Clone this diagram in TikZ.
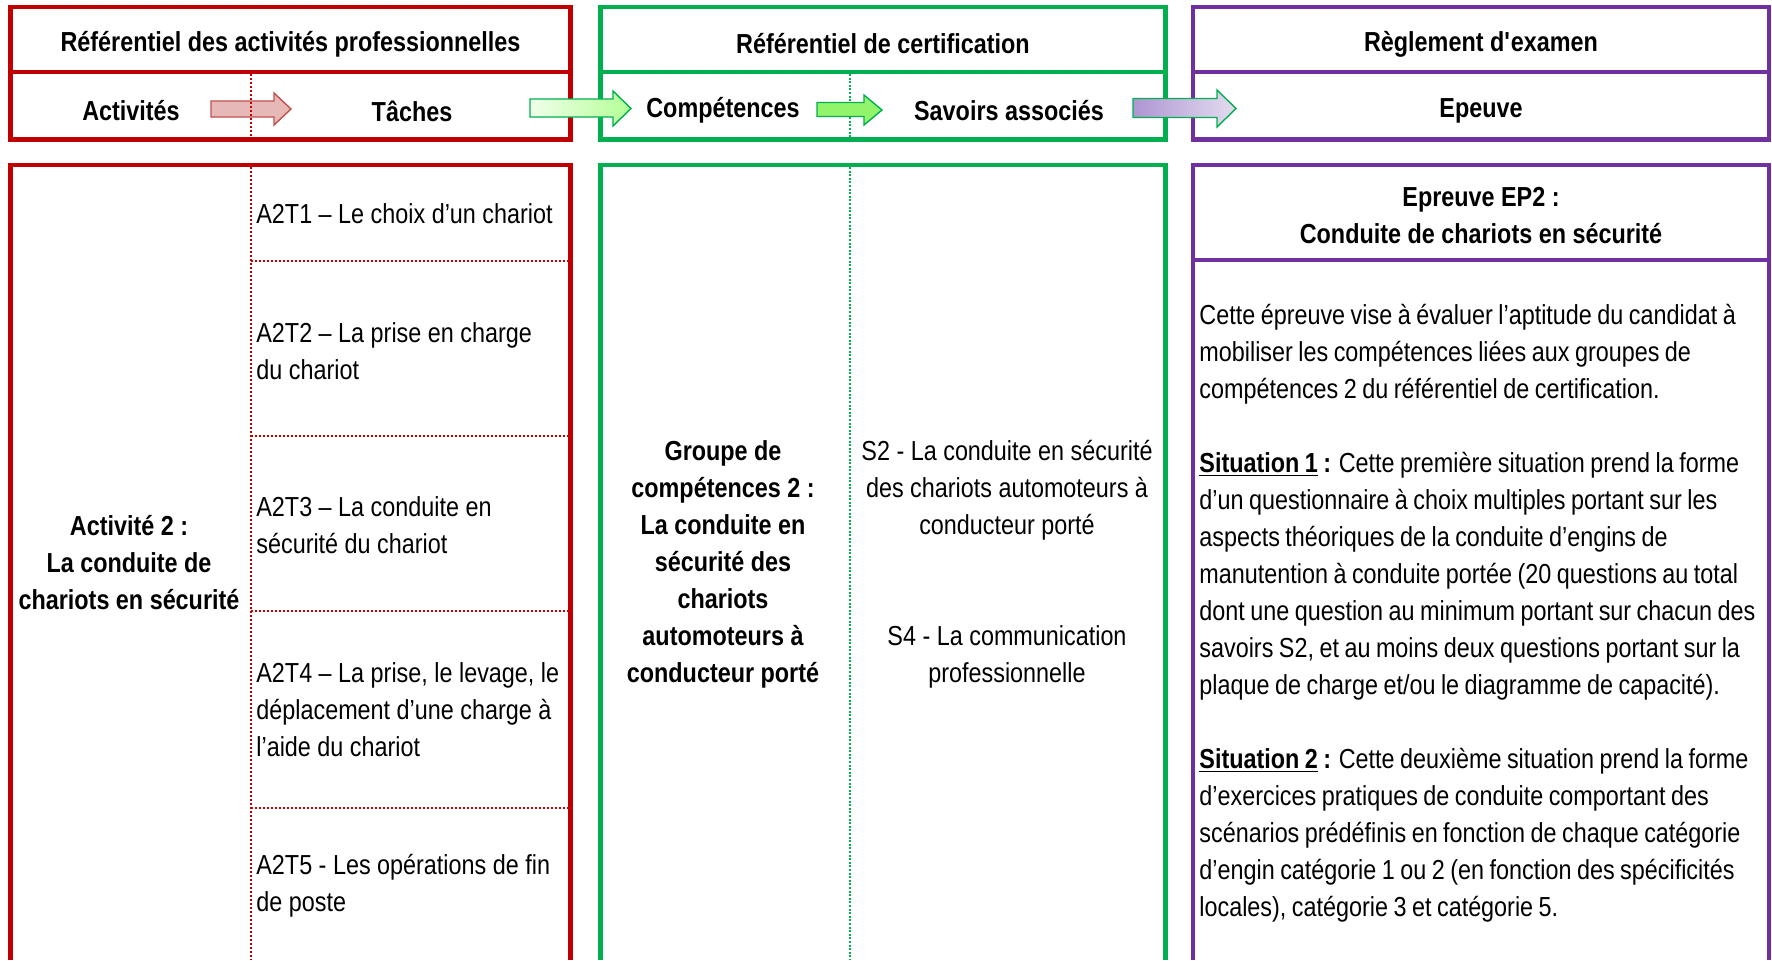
\documentclass[tikz,border=0pt]{standalone}
\usepackage{fontspec}
\setmainfont{Liberation Sans}[FakeStretch=0.85]
\usetikzlibrary{positioning}
\definecolor{RedB}{HTML}{C00000}
\definecolor{GreenB}{HTML}{00B050}
\definecolor{PurpleB}{HTML}{7030A0}
\definecolor{ArrRed}{HTML}{C0504D}
\definecolor{ArrRedFill}{HTML}{E6B9B8}
\definecolor{ArrGreenA}{HTML}{F0FFEA}
\definecolor{ArrGreenB}{HTML}{B4FF96}
\definecolor{ArrGreenC}{HTML}{92F46A}
\definecolor{ArrPurpleA}{HTML}{AE96D2}
\definecolor{ArrPurpleB}{HTML}{E4DCF0}

\begin{document}
\begin{tikzpicture}[x=0.5pt, y=-0.5pt,
                every node/.style={inner sep=0pt, font=\fontsize{13.75}{18.5}\selectfont},
                head/.style={font=\fontsize{13.75}{18.5}\selectfont\bfseries, align=center},
                task/.style={anchor=west, align=left},
                bodytext/.style={anchor=west, align=left, font=\fontsize{13.75}{18.5}\selectfont\spaceskip 0.2em plus 0.1em minus 0.05em\relax},
                plain/.style={align=center},
                redbox/.style={draw=RedB, line width=2.25pt},
                greenbox/.style={draw=GreenB, line width=2.25pt},
                purplebox/.style={draw=PurpleB, line width=2.25pt},
                reddots/.style={draw=RedB, line width=1.1pt, dash pattern=on 1pt off 1pt},
                greendots/.style={draw=GreenB, line width=0.8pt, dash pattern=on 1pt off 0.8pt},
                blockarrow/.style={line width=0.7pt, line join=miter}
            ]
            \useasboundingbox (0,0) rectangle (1772,960);

            \draw[redbox] (10.5,7) rectangle (570.5,139.5);
            \draw[redbox] (10.5,72) -- (570.5,72);
            \draw[greenbox] (600.5,7) rectangle (1165.5,139.5);
            \draw[greenbox] (600.5,72) -- (1165.5,72);
            \draw[purplebox] (1193,7) rectangle (1769,139.5);
            \draw[purplebox] (1193,72) -- (1769,72);

            \draw[redbox] (10.5,960) -- (10.5,165) -- (570.5,165) -- (570.5,960);
            \draw[greenbox] (600.5,960) -- (600.5,165) -- (1165.5,165) -- (1165.5,960);
            \draw[purplebox] (1193,960) -- (1193,165) -- (1769,165) -- (1769,960);
            \draw[purplebox] (1193,260) -- (1769,260);

            \draw[reddots] (251,167) -- (251,960);
            \foreach \y in {261,436,611,808}
                \draw[reddots] (251,\y) -- (568.5,\y);
            \draw[greendots] (850,74) -- (850,137.5);
            \draw[greendots] (850,167) -- (850,960);

            \draw[blockarrow, draw=ArrRed, fill=ArrRedFill]
                (211,101) -- (274,101) -- (274,93) -- (291,109) -- (274,125) -- (274,117) -- (211,117) -- cycle;
            \draw[reddots] (251,74) -- (251,137.5);
            \draw[blockarrow, draw=GreenB, left color=ArrGreenA, right color=ArrGreenB]
                (530,99) -- (613,99) -- (613,91) -- (631,108.5) -- (613,126) -- (613,117) -- (530,117) -- cycle;
            \draw[blockarrow, draw=GreenB, fill=ArrGreenC]
                (817,102.5) -- (864,102.5) -- (864,95) -- (882,110) -- (864,125) -- (864,116.5) -- (817,116.5) -- cycle;
            \draw[blockarrow, draw=GreenB, left color=ArrPurpleA, right color=ArrPurpleB]
                (1133,98.5) -- (1217,98.5) -- (1217,90) -- (1236,108.5) -- (1217,127) -- (1217,117.5) -- (1133,117.5) -- cycle;

            \node (HeadAct) [head] at (290.5,44) {Référentiel des activités professionnelles};
            \node (HeadCert) [head] at (883,44) {Référentiel de certification};
            \node (HeadExam) [head] at (1481,44) {Règlement d\textquotesingle examen};
            \node (ColAct) [head] at (131,111) {Activités};
            \node (ColTask) [head] at (412,111) {Tâches};
            \node (ColComp) [head] at (723,110) {Compétences};
            \node (ColSav) [head] at (1009,111) {Savoirs associés};
            \node (ColEpr) [head] at (1481,111) {Epeuve};

            \node (Act02) [head] at (129,563) {Activité 2 :\\La conduite de\\chariots en sécurité};
            \node (Task01) [task] at (256,214) {A2T1 – Le choix d’un chariot};
            \node (Task02) [task] at (256,351) {A2T2 – La prise en charge\\du chariot};
            \node (Task03) [task] at (256,525) {A2T3 – La conduite en\\sécurité du chariot};
            \node (Task04) [task] at (256,710) {A2T4 – La prise, le levage, le\\déplacement d’une charge à\\l’aide du chariot};
            \node (Task05) [task] at (256,886) {A2T5 - Les opérations de fin\\de poste};

            \node (Comp02) [head] at (723,564) {Groupe de\\compétences 2 :\\La conduite en\\sécurité des\\chariots\\automoteurs à\\conducteur porté};
            \node (Sav02) [plain] at (1007,490) {S2 - La conduite en sécurité\\des chariots automoteurs à\\conducteur porté};
            \node (Sav04) [plain] at (1007,657) {S4 - La communication\\professionnelle};

            \node (Epr02) [head] at (1481,216) {Epreuve EP2 :\\Conduite de chariots en sécurité};
            \node (EprText) [bodytext] at (1199,613.5) {Cette épreuve vise à évaluer l’aptitude du candidat à\\
                mobiliser les compétences liées aux groupes de\\
                compétences 2 du référentiel de certification.\\[18.5pt]
                \textbf{\underline{Situation 1} :} Cette première situation prend la forme\\
                d’un questionnaire à choix multiples portant sur les\\
                aspects théoriques de la conduite d’engins de\\
                manutention à conduite portée (20 questions au total\\
                dont une question au minimum portant sur chacun des\\
                savoirs S2, et au moins deux questions portant sur la\\
                plaque de charge et/ou le diagramme de capacité).\\[18.5pt]
                \textbf{\underline{Situation 2} :} Cette deuxième situation prend la forme\\
                d’exercices pratiques de conduite comportant des\\
                scénarios prédéfinis en fonction de chaque catégorie\\
                d’engin catégorie 1 ou 2 (en fonction des spécificités\\
                locales), catégorie 3 et catégorie 5.};
\end{tikzpicture}
\end{document}
